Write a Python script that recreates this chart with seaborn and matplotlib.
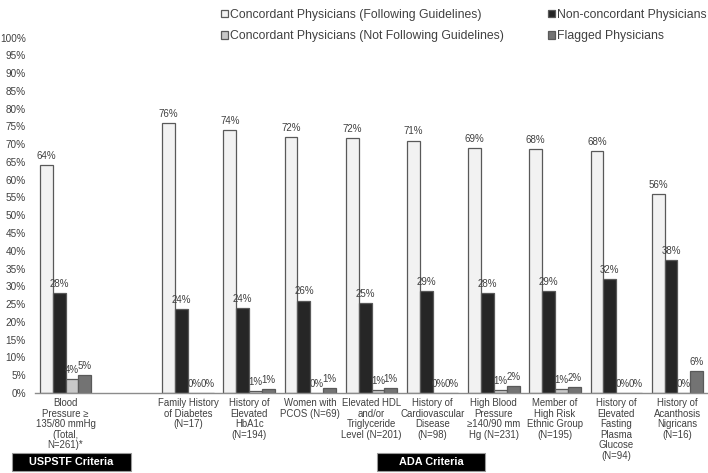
import pandas as pd
import numpy as np
import matplotlib
matplotlib.use('agg')
import matplotlib.pyplot as plt
from matplotlib.patches import Rectangle
import seaborn as sns

sns.set_style("white")
plt.rcParams['font.family'] = ['Liberation Sans', 'DejaVu Sans']

# x categories (first one is USPSTF, the rest ADA)
categories = [
    "Blood\nPressure \u2265\n135/80 mmHg\n(Total,\nN=261)*",
    "Family History\nof Diabetes\n(N=17)",
    "History of\nElevated\nHbA1c\n(N=194)",
    "Women with\nPCOS (N=69)",
    "Elevated HDL\nand/or\nTriglyceride\nLevel (N=201)",
    "History of\nCardiovascular\nDisease\n(N=98)",
    "High Blood\nPressure\n\u2265140/90 mm\nHg (N=231)",
    "Member of\nHigh Risk\nEthnic Group\n(N=195)",
    "History of\nElevated\nFasting\nPlasma\nGlucose\n(N=94)",
    "History of\nAcanthosis\nNigricans\n(N=16)",
]

series = [
    "Concordant Physicians (Following Guidelines)",
    "Non-concordant Physicians",
    "Concordant Physicians (Not Following Guidelines)",
    "Flagged Physicians",
]

# percentages
following = [64, 76, 74, 72, 71.8, 71, 69, 68.5, 68, 56]
non_concordant = [28, 23.5, 24, 26, 25.3, 28.6, 28, 28.6, 32, 37.5]
not_following = [4, 0, 0.6, 0, 0.8, 0, 0.8, 1, 0, 0]
flagged = [5, 0, 1.2, 1.4, 1.3, 0, 1.9, 1.6, 0, 6.1]

colors = ["#f2f2f2", "#262626", "#c8c8c8", "#737373"]

rows = []
for vals, s in zip([following, non_concordant, not_following, flagged], series):
    for c, v in zip(categories, vals):
        rows.append({"cat": c, "series": s, "pct": v})
df = pd.DataFrame(rows)

# empty slot between USPSTF and ADA groups
order = [categories[0], " "] + categories[1:]

fig = plt.figure(figsize=(7.08, 4.73), dpi=100)
ax = fig.add_axes([35 / 708, 80 / 473, 673 / 708, 355.5 / 473])

sns.barplot(data=df, x="cat", y="pct", hue="series", order=order,
            hue_order=series, palette=colors, width=0.84, gap=0,
            edgecolor="#595959", linewidth=0.9, ax=ax, legend=True)

txt = "#404040"
for cont in ax.containers:
    ax.bar_label(cont, fmt=lambda v: f"{round(v)}%", padding=3,
                 fontsize=7, color=txt)

ax.set_ylim(0, 100)
ax.set_xlim(-0.5, len(order) - 0.5)
ax.set_yticks(np.arange(0, 101, 5))
ax.set_yticklabels([f"{t}%" for t in range(0, 101, 5)])
ax.tick_params(axis='y', length=0, pad=6.5, labelsize=7.2, labelcolor=txt)
ax.tick_params(axis='x', length=0, pad=3.5, labelsize=6.9, labelcolor=txt)
for lab in ax.get_xticklabels():
    lab.set_linespacing(1.08)
ax.set_xlabel("")
ax.set_ylabel("")
for sp in ["left", "right", "top"]:
    ax.spines[sp].set_visible(False)
ax.spines["bottom"].set_color("#8c8c8c")
ax.spines["bottom"].set_linewidth(1)

handles, labels = ax.get_legend_handles_labels()
ax.get_legend().remove()
idx = [0, 2, 1, 3]
fig.legend([handles[i] for i in idx], [labels[i] for i in idx],
           loc="upper left", bbox_to_anchor=(210 / 708, 1.005), ncol=2,
           frameon=False, fontsize=8.8, handlelength=0.55, handleheight=0.55,
           handletextpad=0.2, columnspacing=3.6, labelspacing=0.8,
           labelcolor=txt)

# criteria boxes under the axis
for x0, x1, label in [(12, 131, "USPSTF Criteria"), (377, 485, "ADA Criteria")]:
    fig.patches.append(Rectangle((x0 / 708, 2 / 473), (x1 - x0) / 708, 18 / 473,
                                 transform=fig.transFigure, facecolor="black",
                                 edgecolor="#999999", linewidth=0.8))
    fig.text((x0 + x1) / 2 / 708, 11 / 473, label, color="white",
             fontsize=7.8, fontweight="bold", ha="center", va="center")

fig.savefig("out.png", dpi=100)
